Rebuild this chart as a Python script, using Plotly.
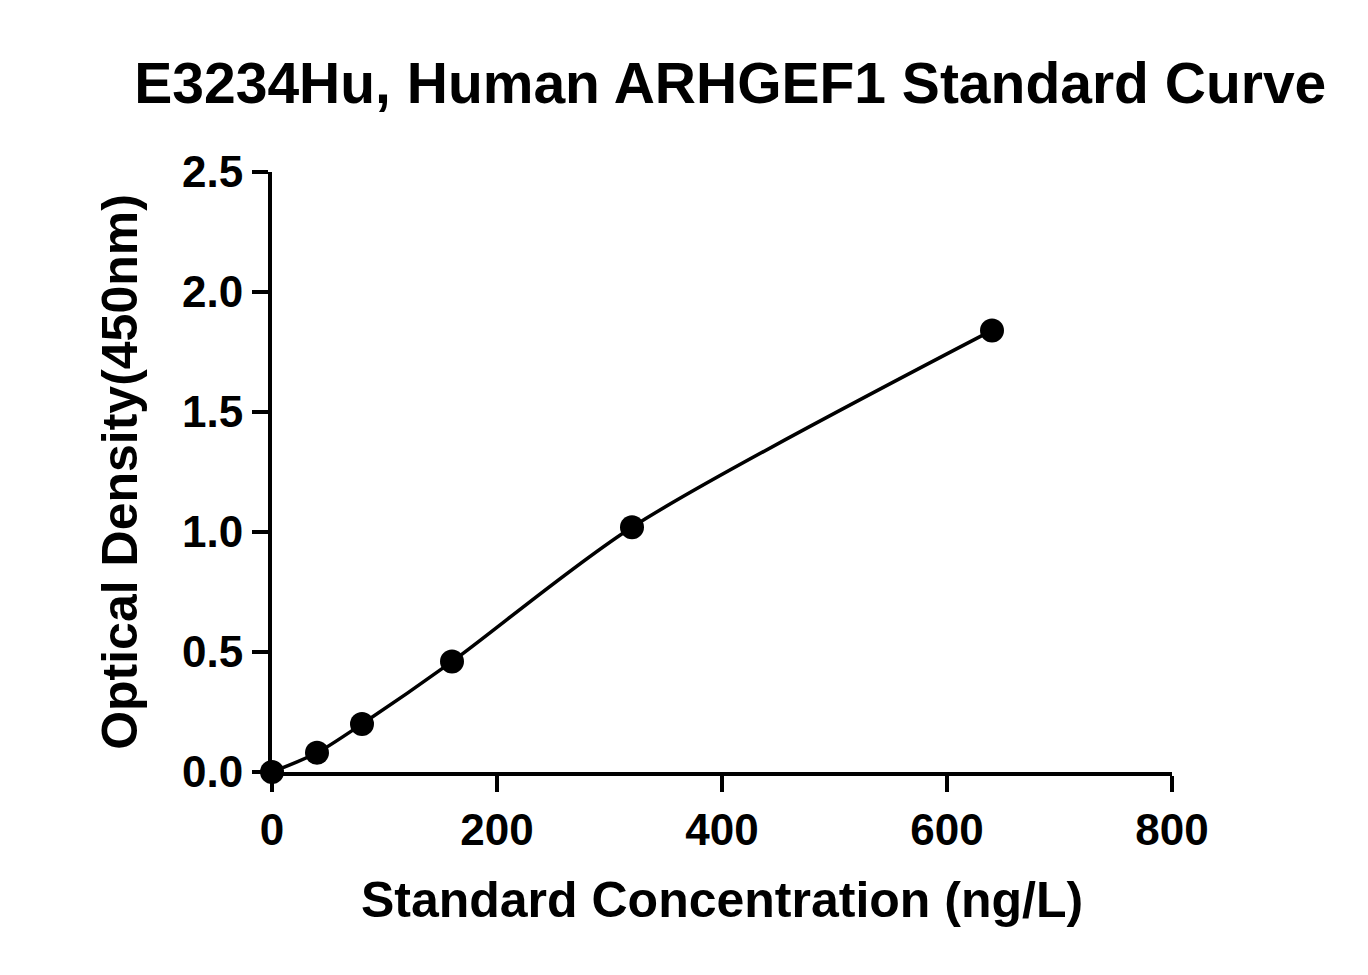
import plotly.graph_objects as go

conc = [0, 40, 80, 160, 320, 640]
od = [0.0, 0.08, 0.2, 0.46, 1.02, 1.84]

font = "Liberation Sans, Arial, sans-serif"

fig = go.Figure()
fig.add_trace(go.Scatter(x=conc, y=od, mode="lines+markers",
                         line=dict(color="black", width=3.5, shape="spline", smoothing=0.8),
                         marker=dict(color="black", size=24),
                         cliponaxis=False, showlegend=False))

axis_common = dict(showline=True, linecolor="black", linewidth=4, ticks="outside",
                   ticklen=16, tickwidth=4, tickcolor="black", showgrid=False,
                   zeroline=False,
                   tickfont=dict(family=font, size=44, color="black", weight="bold"))

fig.update_layout(
    width=1368, height=975,
    plot_bgcolor="white", paper_bgcolor="white",
    margin=dict(l=264, r=204, t=164, b=211),
    title=dict(text="<b>E3234Hu, Human ARHGEF1 Standard Curve</b>", x=0.528, xanchor="center",
               y=0.923, yanchor="middle", font=dict(family=font, size=57, color="black")),
    xaxis=dict(range=[0, 800], tickvals=[0, 200, 400, 600, 800],
               title=dict(text="<b>Standard Concentration (ng/L)</b>", standoff=30,
                          font=dict(family=font, size=50, color="black")),
               **axis_common),
    yaxis=dict(range=[0, 2.5], tickvals=[0, 0.5, 1.0, 1.5, 2.0, 2.5], tickformat=".1f",
               title=dict(text="<b>Optical Density(450nm)</b>", standoff=30,
                          font=dict(family=font, size=50, color="black")),
               **axis_common),
)

fig.write_html("out.html")
